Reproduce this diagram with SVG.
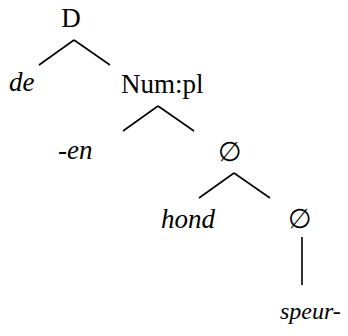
<svg xmlns="http://www.w3.org/2000/svg" width="348" height="336" viewBox="0 0 348 336">
<style>
.i{font-style:italic}
line{stroke:#000;stroke-width:1.6}
</style>
<rect width="348" height="336" fill="#fff"/>
<g id="edges">
<line x1="74" y1="40" x2="39" y2="65"/>
<line x1="74" y1="40" x2="110" y2="65"/>
<line x1="158" y1="106" x2="123" y2="131"/>
<line x1="158" y1="106" x2="194" y2="131"/>
<line x1="234" y1="173" x2="199" y2="198"/>
<line x1="234" y1="173" x2="270" y2="198"/>
<line x1="302" y1="237" x2="302" y2="285"/>
</g>
<g font-family="Liberation Serif, serif" font-size="27" fill="#000">
<g id="D"><text x="71" y="27" text-anchor="middle">D</text></g>
<g id="de"><text class="i" x="9" y="91">de</text></g>
<g id="Num"><text x="121" y="93">Num:pl</text></g>
<g id="en"><text class="i" x="58" y="159">-en</text></g>
<g id="null1"><text x="230" y="161" text-anchor="middle">∅</text></g>
<g id="hond"><text class="i" x="161" y="228">hond</text></g>
<g id="null2"><text x="300" y="228" text-anchor="middle">∅</text></g>
<g id="speur"><text class="i" x="280" y="319" font-size="24">speur-</text></g>
</g>
</svg>
